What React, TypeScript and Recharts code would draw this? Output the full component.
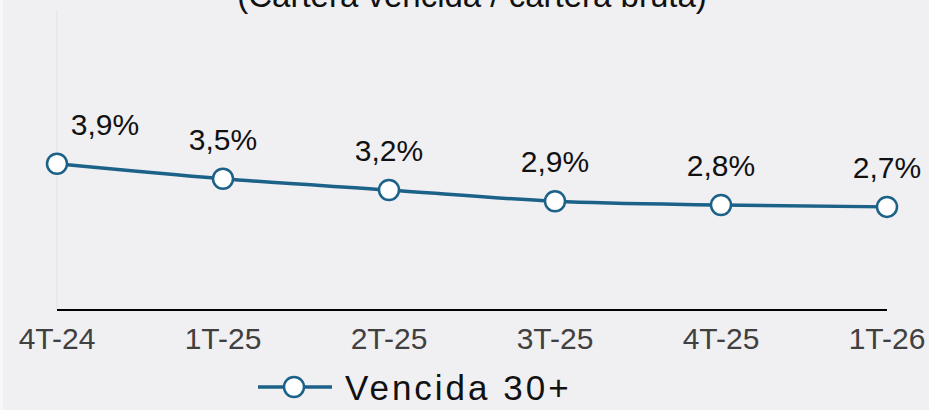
import { LineChart, Line, XAxis, YAxis, ReferenceLine, Legend, LabelList } from 'recharts'

// Cartera vencida 30+ / cartera bruta, by quarter
const quarters = ['4T-24', '1T-25', '2T-25', '3T-25', '4T-25', '1T-26']
const vencida30 = [3.9, 3.5, 3.2, 2.9, 2.8, 2.75]
const vencidaLabels = ['3,9%', '3,5%', '3,2%', '2,9%', '2,8%', '2,7%']

const LINE_COLOR = '#1c6288'
const FONT = '"Liberation Sans", Arial, sans-serif'

const data = quarters.map((q, i) => ({ quarter: q, vencida: vencida30[i], label: vencidaLabels[i] }))

function PointLabel(props: any) {
  const { x, y, index, value } = props
  // first label is pushed right so it does not overflow the left edge
  const lx = index === 0 ? x + 48 : x
  return (
    <text x={lx} y={y - 29} textAnchor="middle" fontSize={30} fill="#111" fontFamily={FONT}>
      {value}
    </text>
  )
}

function LegendContent() {
  return (
    <div
      style={{
        display: 'flex',
        alignItems: 'center',
        height: 50,
        marginTop: 12,
        paddingLeft: 257,
        fontFamily: FONT,
      }}
    >
      <svg width={76} height={24} style={{ marginRight: 12 }}>
        <line x1={1} y1={12} x2={75} y2={12} stroke={LINE_COLOR} strokeWidth={3.5} />
        <circle cx={37} cy={12} r={10} fill="#fff" stroke={LINE_COLOR} strokeWidth={2.5} />
      </svg>
      <span style={{ fontSize: 35, color: '#111', letterSpacing: 3, lineHeight: 1 }}>Vencida 30+</span>
    </div>
  )
}

export default function App() {
  return (
    <div
      style={{
        position: 'fixed',
        top: 0,
        left: 0,
        width: 929,
        height: 410,
        background: '#f0eff2',
        overflow: 'hidden',
        fontFamily: FONT,
      }}
    >
      <div style={{ position: 'absolute', left: 0, top: 0, width: 3, height: 410, background: '#f7f7f8' }} />
      <div
        style={{
          position: 'absolute',
          top: -24,
          left: 0,
          width: 944,
          textAlign: 'center',
          fontSize: 33,
          lineHeight: '40px',
          color: '#111',
        }}
      >
        (Cartera vencida / cartera bruta)
      </div>
      <LineChart width={929} height={410} data={data} margin={{ top: 10, right: 42, left: 57, bottom: 10 }}>
        <XAxis
          dataKey="quarter"
          tickLine={false}
          axisLine={{ stroke: '#000', strokeWidth: 2 }}
          tick={{ fontSize: 30, fill: '#404040', fontFamily: FONT }}
          tickMargin={12}
          height={40}
          interval={0}
        />
        <YAxis hide domain={[0, 8]} />
        <ReferenceLine x="4T-24" stroke="#e3e2e6" strokeWidth={1} />
        <Legend
          verticalAlign="bottom"
          height={50}
          wrapperStyle={{ left: 0, width: 929 }}
          content={<LegendContent />}
        />
        <Line
          type="monotone"
          dataKey="vencida"
          name="Vencida 30+"
          stroke={LINE_COLOR}
          strokeWidth={3.5}
          dot={{ r: 10, fill: '#fff', stroke: LINE_COLOR, strokeWidth: 2.5 }}
          isAnimationActive={false}
        >
          <LabelList dataKey="label" content={<PointLabel />} />
        </Line>
      </LineChart>
    </div>
  )
}
